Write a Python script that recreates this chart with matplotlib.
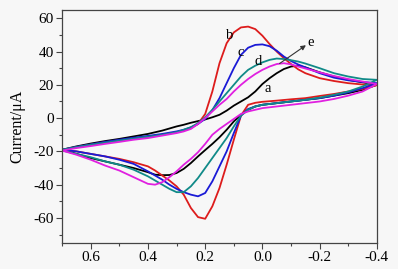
import matplotlib
matplotlib.use("Agg")
import matplotlib.pyplot as plt
from matplotlib.ticker import MultipleLocator

# Forward scan potentials (V) and reverse scan potentials (V)
v_fwd = [0.7, 0.65, 0.6, 0.55, 0.5, 0.45, 0.4, 0.35, 0.3, 0.275, 0.25, 0.225, 0.2,
         0.175, 0.15, 0.125, 0.1, 0.075, 0.05, 0.025, 0.0, -0.025, -0.05, -0.075,
         -0.1, -0.125, -0.15, -0.2, -0.25, -0.3, -0.35, -0.4]
v_rev = [-0.4, -0.35, -0.3, -0.25, -0.2, -0.15, -0.1, -0.05, 0.0, 0.025, 0.05, 0.075,
         0.1, 0.125, 0.15, 0.175, 0.2, 0.225, 0.25, 0.275, 0.3, 0.325, 0.35, 0.375,
         0.4, 0.45, 0.5, 0.55, 0.6, 0.65, 0.7]

# Currents (uA)
a_fwd = [-19, -17, -15.3, -13.8, -12.5, -11, -9.5, -7.5, -5, -4, -2.8, -1.8, -0.8,
         0.5, 2, 4.5, 7.5, 10, 12.5, 16, 20.5, 24, 27, 29.5,
         31, 31.5, 30.5, 27.5, 25, 23, 21.5, 20]
a_rev = [20, 17, 15, 13.5, 12, 11, 10, 9, 8, 7, 5, 2,
         -2, -7, -11.5, -15.5, -19.2, -23, -27, -30.5, -33, -34.2, -34.3, -34,
         -32.5, -30, -28, -26, -24, -21.5, -19]

b_fwd = [-19, -17.5, -16, -14.5, -13.3, -12.2, -11.2, -10, -8.5, -7.5, -6, -3.5, 2.5,
         16, 33, 45, 51.5, 54.5, 55, 53.5, 49.5, 44.5, 40, 36,
         32.5, 29.3, 27, 24, 22.3, 21, 20.2, 19.8]
b_rev = [19.8, 17.5, 16, 14.5, 13.3, 12, 11.3, 10.5, 9.8, 9.2, 8, 1.5,
         -13, -28, -42, -53, -60.5, -59.5, -54, -46, -41, -37.5, -34.5, -31.5,
         -29, -26.5, -24.5, -23, -21.5, -20, -19]

c_fwd = [-19, -17.3, -15.8, -14.3, -13, -11.8, -10.7, -9.5, -8, -7, -5.5, -3.5, -0.5,
         4.8, 12, 21, 30, 38, 42.3, 44, 44.3, 43.2, 40.5, 37,
         34.3, 32.2, 30.5, 27, 24.3, 22.7, 21.7, 21]
c_rev = [21, 18, 15.5, 13.5, 12, 11, 10, 9, 8, 7, 5.5, 1.5,
         -9, -20, -29, -38, -45, -47, -46, -44.5, -42.5, -40, -37, -34.5,
         -32, -27.5, -25, -23, -21.5, -20, -19]

d_fwd = [-19, -17.5, -16, -14.8, -13.5, -12.3, -11.2, -10, -8.5, -7, -5.5, -3, 0.5,
         5, 10, 15, 20, 25, 29, 31.5, 33.5, 35, 35.8, 35.5,
         34.8, 34, 32.8, 30, 27, 25, 23.5, 23]
d_rev = [23, 19, 16, 14, 12.3, 11, 10, 9, 8, 7, 5, 1.5,
         -5, -12, -18, -24, -30, -36, -41, -44.5, -44.5, -42.5, -40, -37.5,
         -35, -31, -28, -26, -23.5, -21.5, -19.5]

e_fwd = [-19.5, -18, -16.8, -15.5, -14.3, -13, -12, -10.5, -9, -8, -6.5, -3.5, 0,
         4, 8, 11.5, 16, 20, 23.5, 26.5, 29, 31, 32.5, 33,
         32.3, 31, 29.8, 27.5, 25.3, 23.5, 22, 20.5]
e_rev = [20.5, 16, 13.5, 11.5, 10, 9, 8, 7, 6, 5, 4, 2.5,
         -0.5, -3.5, -6.5, -10, -15.5, -20.5, -24.5, -28, -32, -35.5, -38.5, -40,
         -39.5, -35.5, -31.5, -28.5, -25, -22, -19.5]

series = [("a", a_fwd, a_rev, "#000000"),
          ("b", b_fwd, b_rev, "#dd1c1c"),
          ("c", c_fwd, c_rev, "#1a1ad6"),
          ("d", d_fwd, d_rev, "#108a88"),
          ("e", e_fwd, e_rev, "#e020e0")]

labels = ["a", "b", "c", "d"]
label_x = [-0.02, 0.116, 0.075, 0.016]
label_y = [18, 49.8, 39.2, 34.2]

plt.rcParams['font.family'] = ['Liberation Serif', 'DejaVu Serif']

bg = "#f7f7f7"
fig = plt.figure(figsize=(3.98, 2.69), dpi=100, facecolor=bg)
ax = fig.add_axes([0.156, 0.097, 0.791, 0.866], facecolor=bg)

for name, fwd, rev, col in series:
    ax.plot(v_fwd + v_rev, fwd + rev, color=col, lw=1.3,
            solid_joinstyle="round", solid_capstyle="round")

for t, x, y in zip(labels, label_x, label_y):
    ax.text(x, y, t, fontsize=10.5, ha="center", va="center")

ax.annotate("", xy=(-0.152, 43.8), xytext=(-0.06, 32.8),
            arrowprops=dict(arrowstyle="-|>", color="#333333", lw=0.8,
                            mutation_scale=7, shrinkA=0, shrinkB=0))
ax.text(-0.17, 45.5, "e", fontsize=10.5, ha="center", va="center")

ax.set_xlim(0.7, -0.4)
ax.set_ylim(-75, 65)
ax.xaxis.set_minor_locator(MultipleLocator(0.1))
ax.yaxis.set_minor_locator(MultipleLocator(10))
ax.set_xticks([0.6, 0.4, 0.2, 0.0, -0.2, -0.4])
ax.set_xticklabels(["0.6", "0.4", "0.2", "0.0", "-0.2", "-0.4"])
ax.set_yticks([-60, -40, -20, 0, 20, 40, 60])
ax.set_yticklabels(["-60", "-40", "-20", "0", "20", "40", "60"])
ax.tick_params(which="major", direction="out", length=4, width=0.8, color="#444444",
               labelsize=11, pad=2)
ax.tick_params(which="minor", direction="out", length=2.5, width=0.8, color="#444444")
for s in ax.spines.values():
    s.set_color("#444444")
    s.set_linewidth(0.9)
ax.set_ylabel("Current/μA", fontsize=11.5, labelpad=6)

fig.savefig("out.png", dpi=100, facecolor=bg)
